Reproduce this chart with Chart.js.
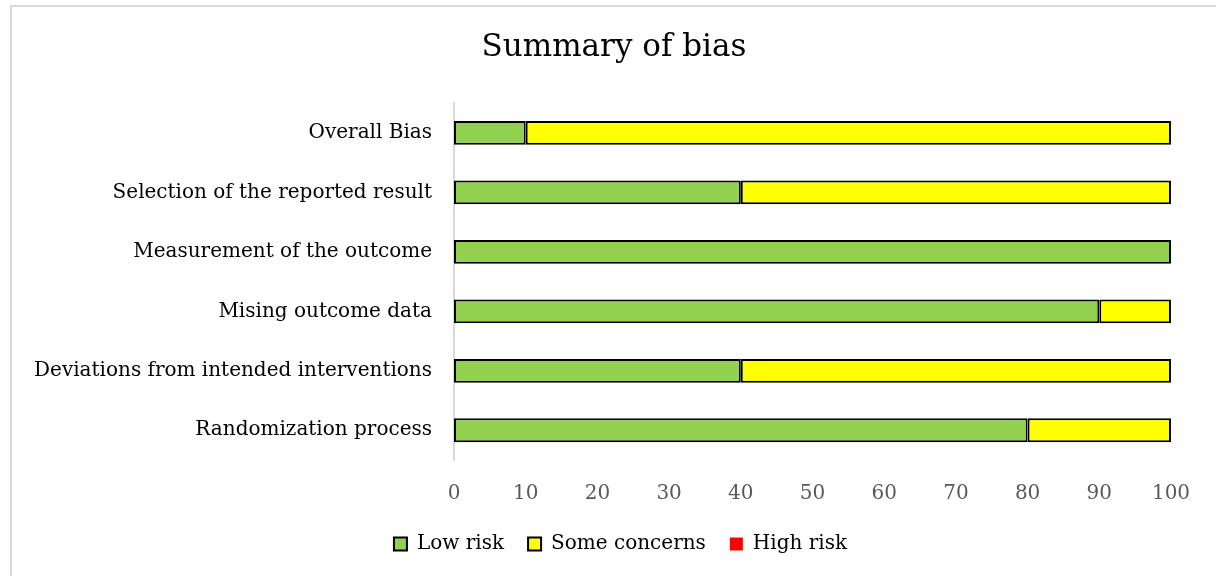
<!DOCTYPE html>
<html>
<head>
<meta charset="utf-8">
<script src="https://cdn.jsdelivr.net/npm/chart.js@4.4.1/dist/chart.umd.min.js"></script>
<style>
    html, body { margin: 0; padding: 0; background: #fff; }
    #wrap { position: relative; width: 1216px; height: 576px; overflow: hidden; }
    #frame { position: absolute; left: 10px; top: 5px; width: 1300px; height: 700px; border: 2px solid #d9d9d9; box-sizing: border-box; }
    canvas { position: absolute; left: 0; top: 0; }
</style>
</head>
<body>
<div id="wrap">
    <div id="frame"></div>
    <canvas id="biasChart" width="1216" height="576"></canvas>
</div>
<script>
// Dados do gráfico
const domains = [
    'Overall Bias',
    'Selection of the reported result',
    'Measurement of the outcome',
    'Mising outcome data',
    'Deviations from intended interventions',
    'Randomization process'
];
const lowRisk = [10, 40, 100, 90, 40, 80];
const someConcerns = [90, 60, 0, 10, 60, 20];
const highRisk = [0, 0, 0, 0, 0, 0];

const serif = "'DejaVu Serif', 'Liberation Serif', serif";

// borda só quando o segmento existe
const segBorder = ctx => (ctx.raw ? 2 : 0);

// centraliza título e legenda como no original
const nudge = {
    id: 'nudge',
    afterLayout(chart) {
        chart.titleBlock.left += 57;
        chart.legend.left += 70;
    }
};

const ctx = document.getElementById('biasChart').getContext('2d');
new Chart(ctx, {
    type: 'bar',
    data: {
        labels: domains,
        datasets: [{
            label: 'Low risk',
            data: lowRisk,
            backgroundColor: '#92D050',
            borderColor: '#000000',
            borderWidth: segBorder,
            borderSkipped: false
        }, {
            label: 'Some concerns',
            data: someConcerns,
            backgroundColor: '#FFFF00',
            borderColor: '#000000',
            borderWidth: segBorder,
            borderSkipped: false
        }, {
            label: 'High risk',
            data: highRisk,
            backgroundColor: '#FF0000',
            borderColor: '#000000',
            borderWidth: segBorder,
            borderSkipped: false
        }]
    },
    plugins: [nudge],
    options: {
        indexAxis: 'y',
        responsive: false,
        animation: false,
        barPercentage: 0.4,
        categoryPercentage: 1,
        layout: {
            padding: { top: 10, right: 45, bottom: 12, left: 0 }
        },
        scales: {
            x: {
                stacked: true,
                min: 0,
                max: 100,
                grid: { display: false, drawTicks: false },
                border: { display: false },
                ticks: {
                    stepSize: 10,
                    padding: 22,
                    color: '#595959',
                    font: { family: serif, size: 20 }
                },
                afterFit: scale => { scale.height = 50; }
            },
            y: {
                stacked: true,
                grid: { display: false, drawTicks: false },
                border: { display: true, color: '#d9d9d9', width: 2 },
                ticks: {
                    padding: 22,
                    color: '#000000',
                    font: { family: serif, size: 20 }
                },
                afterFit: scale => { scale.width = 454; }
            }
        },
        plugins: {
            title: {
                display: true,
                text: 'Summary of bias',
                color: '#000000',
                font: { family: serif, size: 31, weight: 'normal' },
                padding: { top: 19, bottom: 37 }
            },
            legend: {
                position: 'bottom',
                labels: {
                    color: '#000000',
                    boxWidth: 13,
                    boxHeight: 13,
                    padding: 24,
                    font: { family: serif, size: 20 }
                }
            },
            tooltip: { enabled: false }
        }
    }
});
</script>
</body>
</html>
